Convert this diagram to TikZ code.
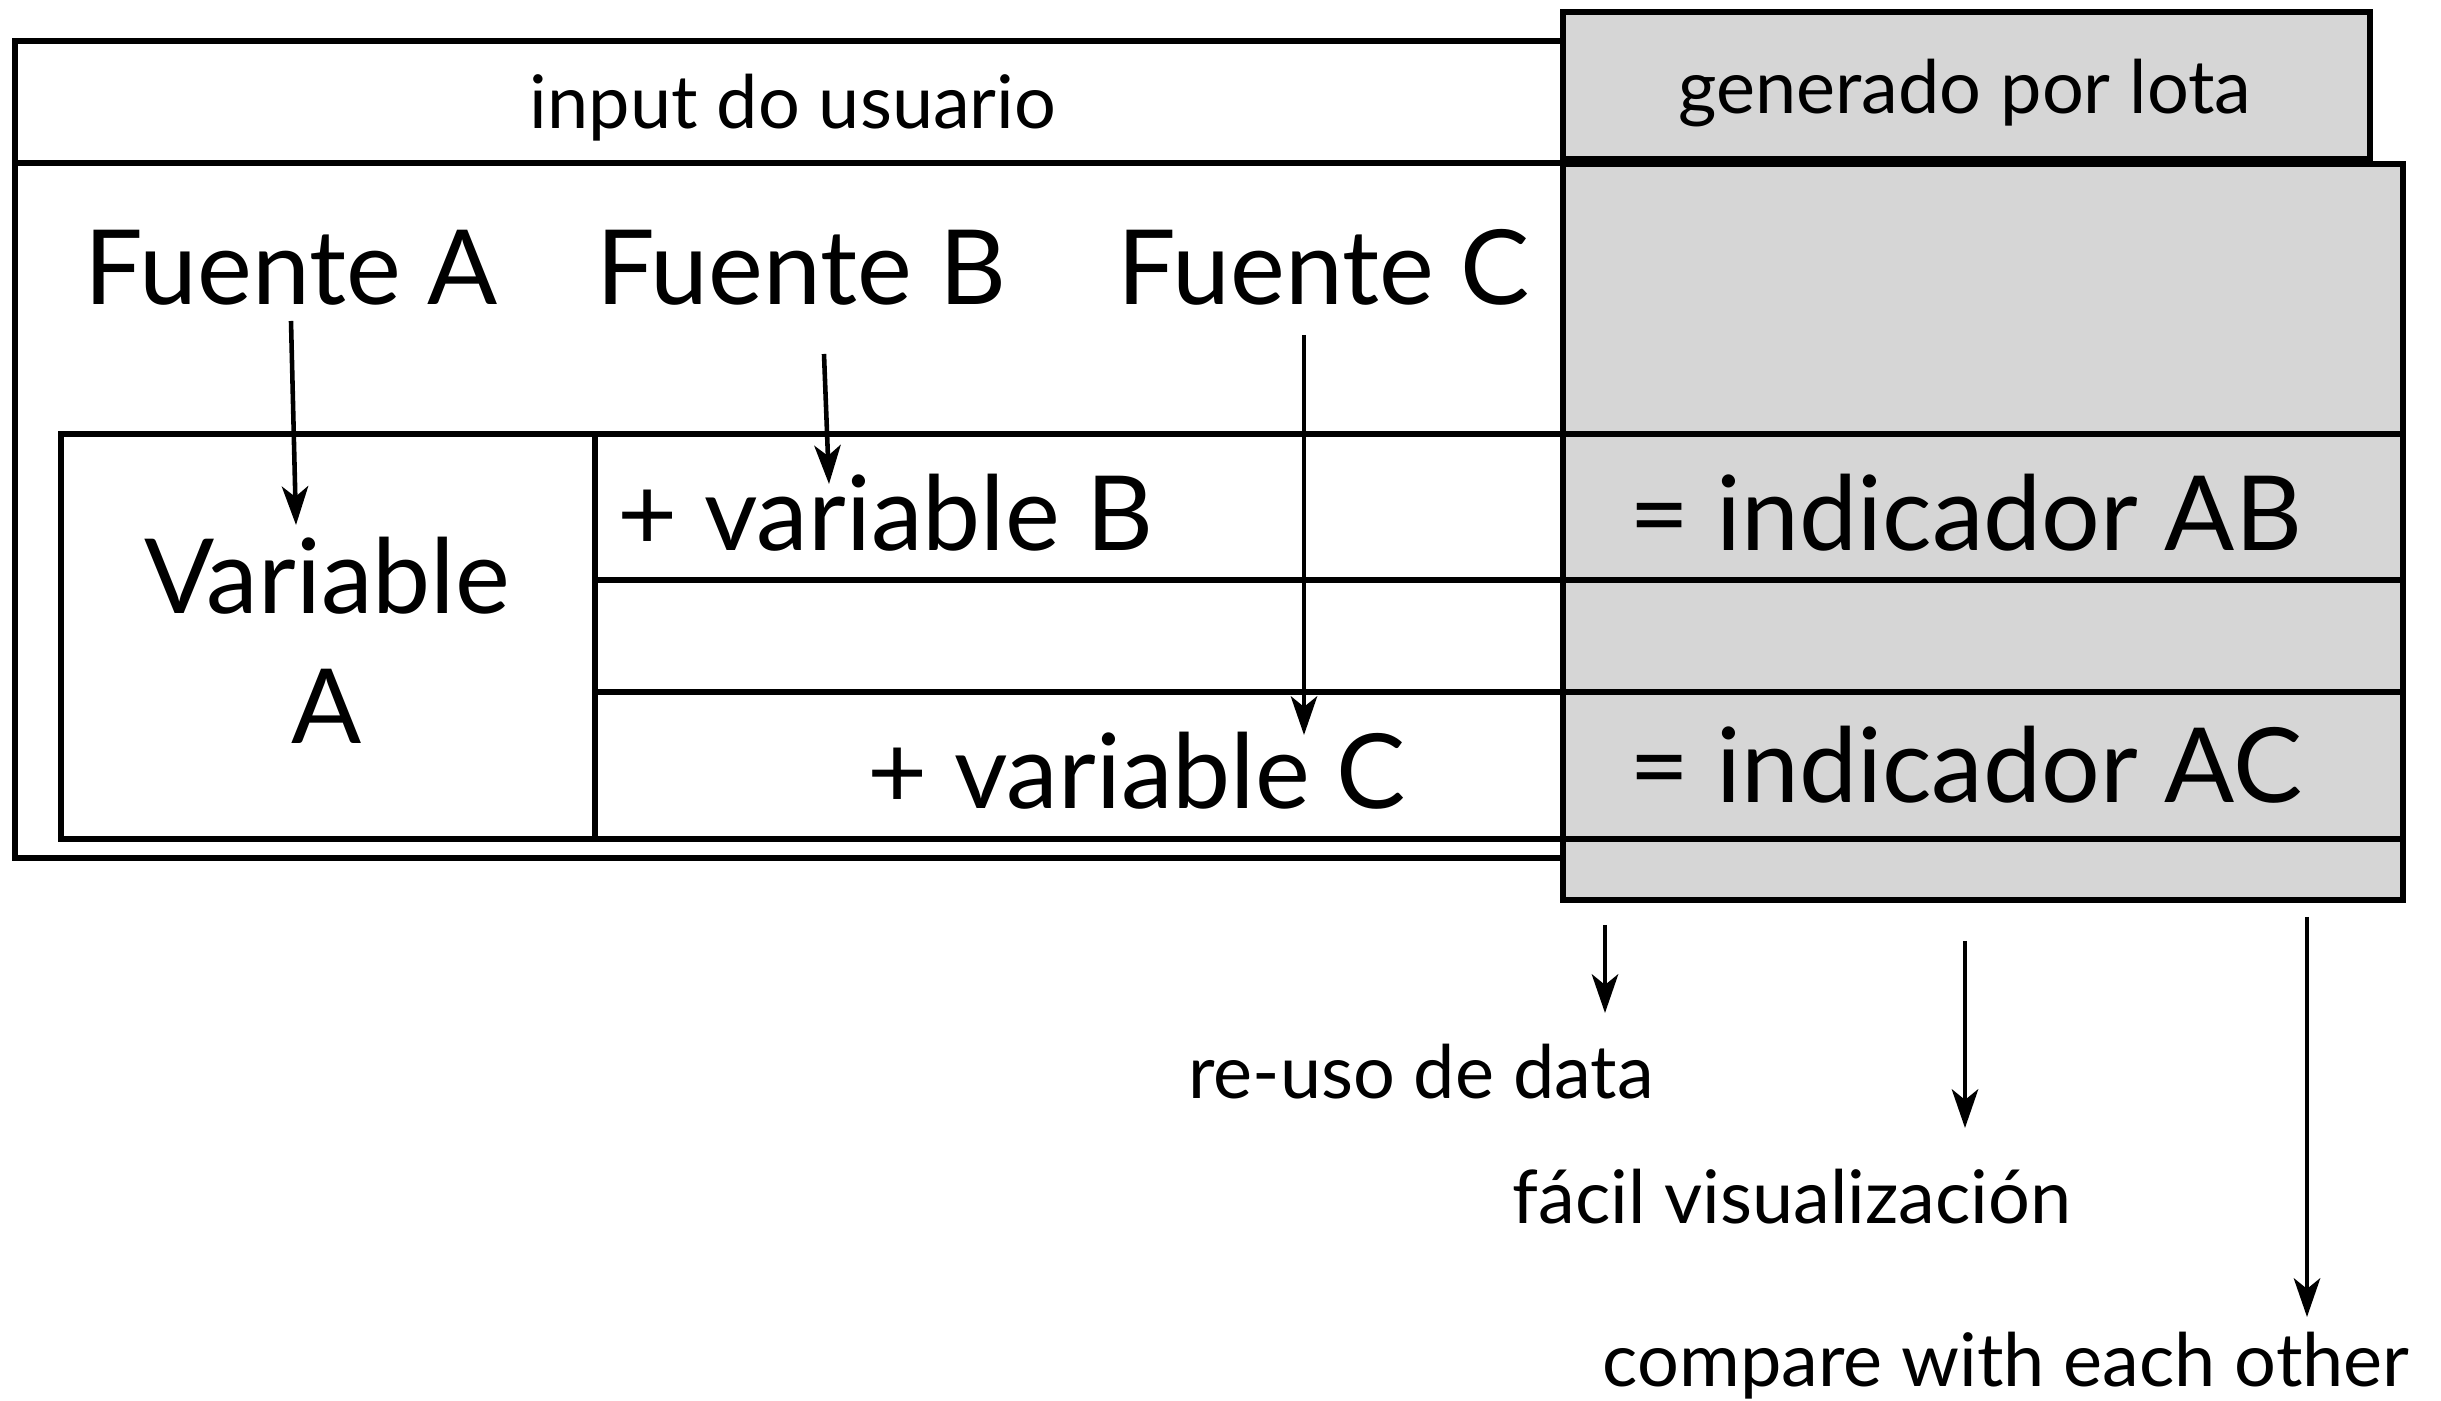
\documentclass[tikz,border=0pt]{standalone}
\usepackage{fontspec}
\setmainfont{Lato}
\usetikzlibrary{arrows.meta}
\definecolor{boxgray}{RGB}{214,214,214}
\tikzset{
  frame/.style={draw=black,line width=1.8pt},
  grayframe/.style={draw=black,fill=boxgray,line width=1.8pt},
  rule/.style={draw=black,line width=1.5pt},
  flow/.style={draw=black,line width=1.3pt,-{Stealth[length=11pt,width=7.5pt,inset=3pt]}},
  big/.style={font=\fontsize{29.5}{34}\selectfont,inner sep=0pt,anchor=base},
  small/.style={font=\fontsize{21}{25}\selectfont,inner sep=0pt,anchor=base},
}
\begin{document}
\begin{tikzpicture}[x=0.01cm,y=-0.01cm]
\useasboundingbox (0,0) rectangle (2441,1401);
% left (user input) frame
\draw[frame] (15,41) rectangle (1566,858);
\draw[rule] (15,163) -- (1566,163);
% grey (generated) frames
\draw[grayframe] (1563,12) rectangle (2370,159);
\draw[grayframe] (1563,164) rectangle (2403,900);
% inner table
\draw[frame] (61,434) rectangle (595,839);
\draw[rule] (595,434) -- (2403,434);
\draw[rule] (595,580) -- (2403,580);
\draw[rule] (595,692) -- (2403,692);
\draw[rule] (595,839) -- (2403,839);
% texts
\node[small] (input) at (793,129) {input do usuario};
\node[small] (gen) at (1965,114) {generado por lota};
\node[big] (fa) at (291,305) {Fuente A};
\node[big] (fb) at (801,305) {Fuente B};
\node[big] (fc) at (1324,305) {Fuente C};
\node[big] (va1) at (327,614) {Variable};
\node[big] (va2) at (327,744) {A};
\node[big,anchor=base west] (vb) at (617,551) {+ variable B};
\node[big,anchor=base west] (vc) at (867,809) {+ variable C};
\node[big] (iab) at (1966,551) {= indicador AB};
\node[big] (iac) at (1966,803) {= indicador AC};
\node[small] (reuso) at (1421,1099) {re-uso de data};
\node[small] (facil) at (1792,1224) {fácil visualización};
\node[small] (comp) at (2006,1387) {compare with each other};
% arrow ends
\coordinate (a0) at (291,321); \coordinate (a1) at (296,525);
\coordinate (b0) at (824,354); \coordinate (b1) at (829,484);
\coordinate (c0) at (1304,335); \coordinate (c1) at (1304,735);
\coordinate (d0) at (1605,925); \coordinate (d1) at (1605,1013);
\coordinate (e0) at (1965,941); \coordinate (e1) at (1965,1128);
\coordinate (f0) at (2307,917); \coordinate (f1) at (2307,1317);
\draw[flow] (a0) -- (a1);
\draw[flow] (b0) -- (b1);
\draw[flow] (c0) -- (c1);
\draw[flow] (d0) -- (d1);
\draw[flow] (e0) -- (e1);
\draw[flow] (f0) -- (f1);
\end{tikzpicture}
\end{document}
